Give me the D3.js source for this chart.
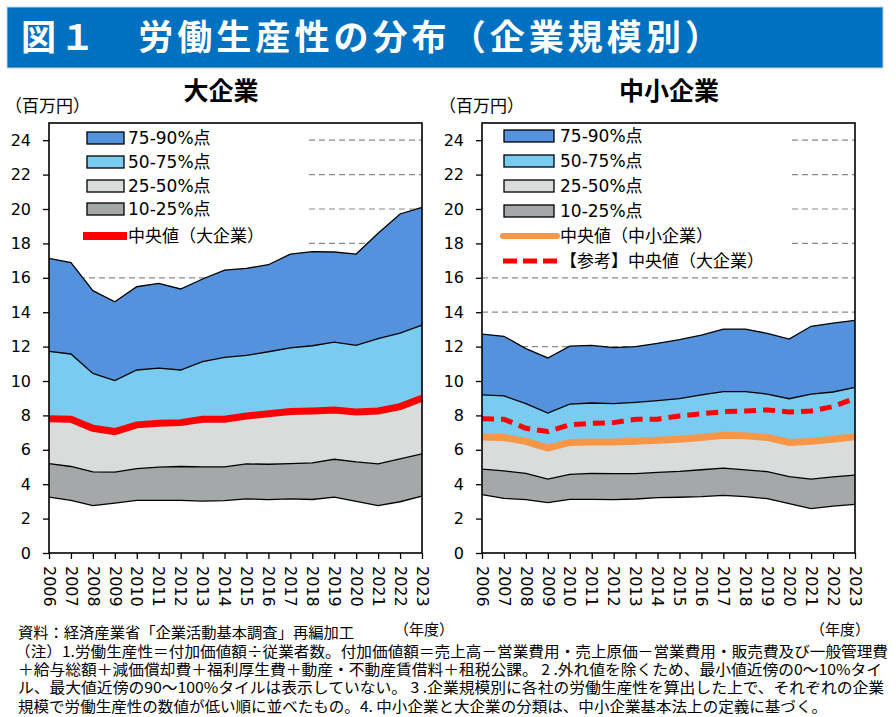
<!DOCTYPE html>
<html>
<head>
<meta charset="utf-8">
<script src="https://cdn.jsdelivr.net/npm/d3@7"></script>
<style>
body { margin: 0; background: #fff; }
text { font-family: "DejaVu Sans", "Noto Sans CJK JP", sans-serif; fill: #000; }
.jp { font-family: "Noto Sans CJK JP", sans-serif; }
</style>
</head>
<body>
<svg id="chart" width="896" height="717"></svg>
<script>
// 年度
const years = ['2006', '2007', '2008', '2009', '2010', '2011', '2012', '2013', '2014',
  '2015', '2016', '2017', '2018', '2019', '2020', '2021', '2022', '2023'];
const yTicks = [0, 2, 4, 6, 8, 10, 12, 14, 16, 18, 20, 22, 24];

// 大企業 (百万円)
const largeP10 = [3.25, 3.06, 2.75, 2.90, 3.06, 3.06, 3.06, 3.02, 3.04, 3.15, 3.10, 3.15, 3.11, 3.25, 3.00, 2.75, 2.98, 3.31];
const largeP25 = [5.20, 5.03, 4.72, 4.70, 4.91, 4.99, 5.03, 5.01, 5.01, 5.18, 5.16, 5.20, 5.24, 5.45, 5.30, 5.18, 5.47, 5.76];
const largeMedian = [7.80, 7.78, 7.25, 7.06, 7.45, 7.54, 7.58, 7.78, 7.78, 7.97, 8.09, 8.22, 8.26, 8.32, 8.20, 8.26, 8.51, 9.00];
const largeP75 = [11.72, 11.57, 10.44, 10.02, 10.64, 10.75, 10.64, 11.12, 11.37, 11.49, 11.70, 11.93, 12.05, 12.26, 12.07, 12.46, 12.79, 13.25];
const largeP90 = [17.13, 16.88, 15.25, 14.61, 15.48, 15.68, 15.35, 15.93, 16.45, 16.55, 16.76, 17.38, 17.52, 17.50, 17.38, 18.59, 19.71, 20.10];

// 中小企業 (百万円)
const smeP10 = [3.39, 3.18, 3.10, 2.93, 3.12, 3.12, 3.10, 3.14, 3.22, 3.24, 3.28, 3.35, 3.28, 3.16, 2.87, 2.58, 2.73, 2.83];
const smeP25 = [4.88, 4.77, 4.63, 4.30, 4.57, 4.63, 4.61, 4.61, 4.69, 4.75, 4.84, 4.94, 4.83, 4.73, 4.44, 4.30, 4.42, 4.53];
const smeMedian = [6.74, 6.71, 6.49, 6.10, 6.43, 6.45, 6.45, 6.49, 6.55, 6.61, 6.71, 6.84, 6.82, 6.72, 6.43, 6.49, 6.61, 6.76];
const smeP75 = [9.19, 9.13, 8.68, 8.14, 8.66, 8.72, 8.68, 8.76, 8.86, 8.97, 9.19, 9.38, 9.38, 9.24, 8.97, 9.24, 9.36, 9.63];
const smeP90 = [12.73, 12.60, 11.88, 11.34, 12.03, 12.07, 11.94, 12.00, 12.19, 12.40, 12.67, 13.02, 13.02, 12.77, 12.44, 13.18, 13.37, 13.53];

const bandLabels = ['75-90%点', '50-75%点', '25-50%点', '10-25%点'];
const largeLineLabels = ['中央値（大企業）'];
const smeLineLabels = ['中央値（中小企業）', '【参考】中央値（大企業）'];

const titleText = '図１　労働生産性の分布（企業規模別）';
const notes = [
  '資料：経済産業省「企業活動基本調査」再編加工',
  '（注）1.労働生産性＝付加価値額÷従業者数。付加価値額＝売上高－営業費用・売上原価－営業費用・販売費及び一般管理費',
  '＋給与総額＋減価償却費＋福利厚生費＋動産・不動産賃借料＋租税公課。 2 .外れ値を除くため、最小値近傍の0～10%タイ',
  'ル、最大値近傍の90～100%タイルは表示していない。 3 .企業規模別に各社の労働生産性を算出した上で、それぞれの企業',
  '規模で労働生産性の数値が低い順に並べたもの。4. 中小企業と大企業の分類は、中小企業基本法上の定義に基づく。'
];

const bandColors = ['#5592dd', '#79ccf0', '#dadbdb', '#a4a8a8'];

const svg = d3.select('#chart');

// title bar
svg.append('rect').attr('x', 7).attr('y', 7).attr('width', 876).attr('height', 61)
  .attr('fill', '#0070c0').attr('stroke', '#c8d0d8').attr('stroke-width', 1);
svg.append('text').attr('class', 'jp').attr('x', 21).attr('y', 38).attr('dy', '0.35em')
  .attr('textLength', 699).attr('font-size', 35).attr('font-weight', 700)
  .style('fill', '#fff').text(titleText);

function drawPanel(cfg) {
  const g = svg.append('g');
  const x = d3.scalePoint().domain(years).range([cfg.left, cfg.right]);
  const y = d3.scaleLinear().domain([0, 25]).range([553, 123]);

  // dashed gridlines (behind areas)
  g.append('g').selectAll('line').data(yTicks.filter(v => v > 0)).join('line')
    .attr('x1', cfg.left).attr('x2', cfg.right)
    .attr('y1', d => y(d)).attr('y2', d => y(d))
    .attr('stroke', '#8a8a8a').attr('stroke-width', 1.2).attr('stroke-dasharray', '6,4');

  const d = cfg.data;
  const bands = [
    { lo: null, hi: d.p10, color: '#fff' },
    { lo: d.p10, hi: d.p25, color: bandColors[3] },
    { lo: d.p25, hi: d.median, color: bandColors[2] },
    { lo: d.median, hi: d.p75, color: bandColors[1] },
    { lo: d.p75, hi: d.p90, color: bandColors[0] }
  ];
  bands.forEach(b => {
    const area = d3.area()
      .x((v, i) => x(years[i]))
      .y0((v, i) => b.lo ? y(b.lo[i]) : y(0))
      .y1(v => y(v));
    g.append('path').datum(b.hi).attr('d', area).attr('fill', b.color);
  });

  const line = d3.line().x((v, i) => x(years[i])).y(v => y(v));
  [d.p10, d.p25, d.p75, d.p90].forEach(s => {
    g.append('path').datum(s).attr('d', line)
      .attr('fill', 'none').attr('stroke', '#000').attr('stroke-width', 1.3);
  });

  cfg.lines.forEach(l => {
    g.append('path').datum(l.values).attr('d', line)
      .attr('fill', 'none').attr('stroke', l.color).attr('stroke-width', l.width)
      .attr('stroke-dasharray', l.dash || null);
  });

  // legend box
  const lg = g.append('g');
  lg.append('rect').attr('x', cfg.left + 1).attr('y', 124)
    .attr('width', cfg.legendW).attr('height', cfg.legendH).attr('fill', '#fff');
  bandLabels.forEach((lab, i) => {
    const cy = cfg.legendY[i];
    lg.append('rect').attr('x', cfg.swX).attr('y', cy - 6).attr('width', cfg.swW).attr('height', 12)
      .attr('fill', bandColors[i]).attr('stroke', '#000').attr('stroke-width', 1.3);
    lg.append('text').attr('x', cfg.textX).attr('y', cy).attr('dy', '0.36em')
      .attr('font-size', 17).text(lab);
  });
  cfg.lines.forEach((l, j) => {
    const cy = cfg.legendY[4 + j];
    lg.append('line').attr('x1', cfg.lineX1).attr('x2', cfg.lineX2).attr('y1', cy).attr('y2', cy)
      .attr('stroke', l.color).attr('stroke-width', l.legendWidth)
      .attr('stroke-linecap', l.cap || 'butt')
      .attr('stroke-dasharray', l.legendDash || null);
    lg.append('text').attr('x', cfg.textX).attr('y', cy).attr('dy', '0.36em')
      .attr('font-size', 17).text(l.label);
  });

  // axes
  const yAxis = g.append('g').attr('transform', `translate(${cfg.left},0)`)
    .call(d3.axisLeft(y).tickValues(yTicks).tickSize(6).tickPadding(12));
  yAxis.select('.domain').remove();
  yAxis.selectAll('text').attr('font-size', 16).style('font-family', '"DejaVu Sans", sans-serif');
  yAxis.selectAll('line').attr('stroke-width', 1.3);

  const xAxis = g.append('g').attr('transform', 'translate(0,553)')
    .call(d3.axisBottom(x).tickSize(6));
  xAxis.select('.domain').remove();
  xAxis.selectAll('line').attr('stroke-width', 1.3);
  xAxis.selectAll('text')
    .attr('transform', 'rotate(90)').attr('x', 13).attr('y', 0).attr('dy', '0.36em')
    .style('text-anchor', 'start').attr('font-size', 16)
    .style('font-family', '"DejaVu Sans", sans-serif');

  g.append('rect').attr('x', cfg.left).attr('y', 123)
    .attr('width', cfg.right - cfg.left).attr('height', 553 - 123)
    .attr('fill', 'none').attr('stroke', '#000').attr('stroke-width', 1.6);

  // titles and units
  g.append('text').attr('class', 'jp').attr('x', cfg.titleX).attr('y', 91).attr('dy', '0.36em')
    .attr('text-anchor', 'middle').attr('font-size', 25).attr('font-weight', 700).text(cfg.title);
  g.append('text').attr('class', 'jp').attr('x', cfg.unitX).attr('y', 106).attr('dy', '0.36em')
    .attr('font-size', 17).text('（百万円）');
  g.append('text').attr('class', 'jp').attr('x', cfg.fyX).attr('y', 630).attr('dy', '0.36em')
    .attr('font-size', 15).text('（年度）');
}

drawPanel({
  left: 49, right: 422, title: '大企業', titleX: 221, unitX: 5, fyX: 394,
  data: { p10: largeP10, p25: largeP25, median: largeMedian, p75: largeP75, p90: largeP90 },
  lines: [
    { values: largeMedian, color: '#ff0000', width: 7, legendWidth: 8, label: largeLineLabels[0] }
  ],
  legendW: 255, legendH: 126, legendY: [138, 162, 186, 209, 236],
  swX: 87, swW: 37, textX: 128, lineX1: 83, lineX2: 127
});

drawPanel({
  left: 482, right: 855, title: '中小企業', titleX: 669, unitX: 439, fyX: 810,
  data: { p10: smeP10, p25: smeP25, median: smeMedian, p75: smeP75, p90: smeP90 },
  lines: [
    { values: smeMedian, color: '#f79646', width: 7, legendWidth: 6, cap: 'round', label: smeLineLabels[0] },
    { values: largeMedian, color: '#ff0000', width: 5, dash: '12,7', legendWidth: 5, legendDash: '14,6', label: smeLineLabels[1] }
  ],
  legendW: 305, legendH: 148, legendY: [136, 161, 186, 211, 236, 261],
  swX: 504, swW: 50, textX: 560, lineX1: 503, lineX2: 557
});

// notes
const noteLayout = [
  { x: 18, len: 336 }, { x: 15, len: 873 }, { x: 18, len: 864 }, { x: 18, len: 866 }, { x: 18, len: 809 }
];
notes.forEach((t, i) => {
  svg.append('text').attr('class', 'jp')
    .attr('x', noteLayout[i].x).attr('y', 633 + i * 18.3).attr('dy', '0.36em')
    .attr('font-size', 15).attr('textLength', noteLayout[i].len)
    .attr('lengthAdjust', 'spacingAndGlyphs').text(t);
});
</script>
</body>
</html>
